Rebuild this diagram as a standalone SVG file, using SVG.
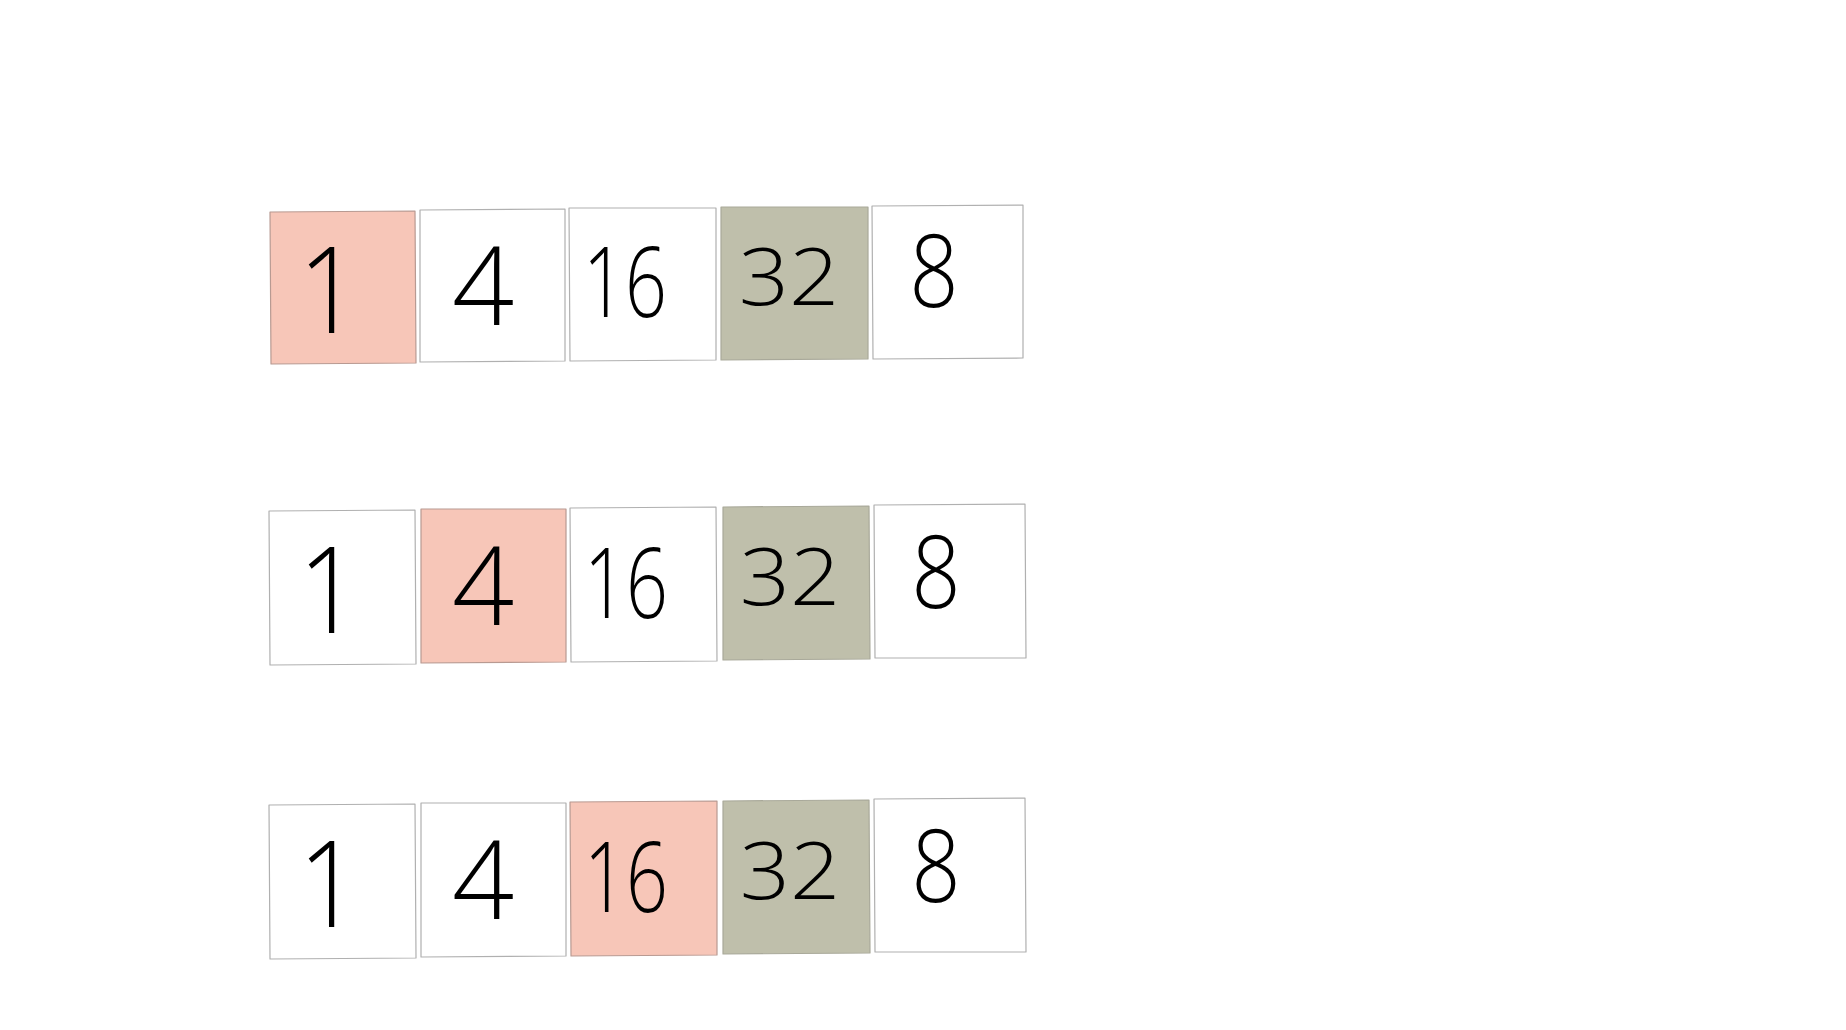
<svg xmlns="http://www.w3.org/2000/svg" width="1846" height="1030" viewBox="0 0 1846 1030">
<style>
.box{stroke:#b0b0b0;stroke-width:1.2;stroke-linejoin:round}
.w{fill:#ffffff}
.p{fill:#f7c6b8;stroke:#b89a92}
.g{fill:#bfbfab;stroke:#a9a99a}
.d{font-family:"Open Sans","Liberation Sans",sans-serif;font-weight:300;fill:#000;text-anchor:middle}
</style>
<rect width="1846" height="1030" fill="#ffffff"/>
<g id="row1">
<g id="r1-n1"><polygon class="box p" points="270,212 415,211 416,363 271,364"/><text class="d" font-size="120" transform="translate(329,333) scale(0.9,1)">1</text></g>
<g id="r1-n4"><polygon class="box w" points="420,210 565,209 565,361 420,362"/><text class="d" font-size="109" transform="translate(483,325)">4</text></g>
<g id="r1-n16"><polygon class="box w" points="569,208 716,208 716,360 570,361"/><text class="d" font-size="98" transform="translate(625,317) scale(0.75,1)">16</text></g>
<g id="r1-n32"><polygon class="box g" points="721,207 868,207 868,359 721,360"/><text class="d" font-size="80" transform="translate(789,305) scale(1.1,1)">32</text></g>
<g id="r1-n8"><polygon class="box w" points="872,206 1023,205 1023,358 873,359"/><text class="d" font-size="101" transform="translate(934,307) scale(0.85,1)">8</text></g>
</g>
<g id="row2">
<g id="r2-n1"><polygon class="box w" points="269,511 415,510 416,664 270,665"/><text class="d" font-size="120" transform="translate(329,633) scale(0.9,1)">1</text></g>
<g id="r2-n4"><polygon class="box p" points="421,509 566,509 566,662 421,663"/><text class="d" font-size="109" transform="translate(483,625)">4</text></g>
<g id="r2-n16"><polygon class="box w" points="570,508 716,507 717,661 571,662"/><text class="d" font-size="98" transform="translate(626,618) scale(0.75,1)">16</text></g>
<g id="r2-n32"><polygon class="box g" points="723,507 869,506 870,659 723,660"/><text class="d" font-size="80" transform="translate(790,605) scale(1.1,1)">32</text></g>
<g id="r2-n8"><polygon class="box w" points="874,505 1025,504 1026,658 875,658"/><text class="d" font-size="101" transform="translate(936,608) scale(0.85,1)">8</text></g>
</g>
<g id="row3">
<g id="r3-n1"><polygon class="box w" points="269,805 415,804 416,958 270,959"/><text class="d" font-size="120" transform="translate(329,927) scale(0.9,1)">1</text></g>
<g id="r3-n4"><polygon class="box w" points="421,803 566,803 566,956 421,957"/><text class="d" font-size="109" transform="translate(483,919)">4</text></g>
<g id="r3-n16"><polygon class="box p" points="570,802 717,801 717,955 571,956"/><text class="d" font-size="98" transform="translate(626,912) scale(0.75,1)">16</text></g>
<g id="r3-n32"><polygon class="box g" points="723,801 869,800 870,953 723,954"/><text class="d" font-size="80" transform="translate(790,899) scale(1.1,1)">32</text></g>
<g id="r3-n8"><polygon class="box w" points="874,799 1025,798 1026,952 875,952"/><text class="d" font-size="101" transform="translate(936,902) scale(0.85,1)">8</text></g>
</g>
</svg>
